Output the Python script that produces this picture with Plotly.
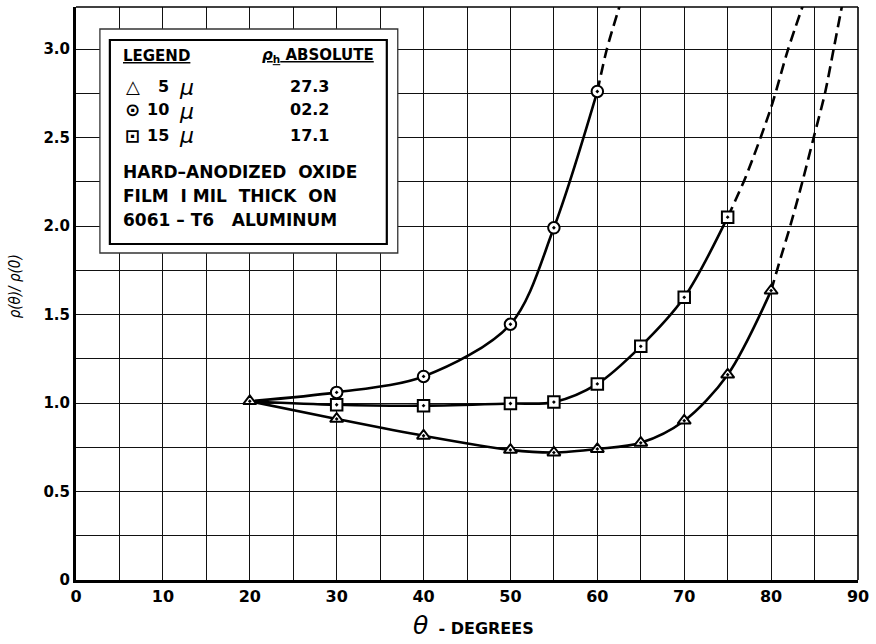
import plotly.graph_objects as go

# ---------------- data ----------------
origin_theta = 20
origin_rho = 1.01

theta_5 = [20, 30, 40, 50, 55, 60, 65, 70, 75, 80]
rho_5 = [1.01, 0.91, 0.815, 0.735, 0.72, 0.74, 0.775, 0.90, 1.16, 1.635]
ext_theta_5 = [80, 81.1, 82.2, 83.6, 84.9, 86.2, 87.2, 88.3]
ext_rho_5 = [1.635, 1.82, 2.0, 2.25, 2.5, 2.75, 3.0, 3.28]

theta_10 = [30, 40, 50, 55, 60]
rho_10 = [1.06, 1.15, 1.445, 1.99, 2.76]
ext_theta_10 = [60, 61.1, 62.8]
ext_rho_10 = [2.76, 3.0, 3.28]

theta_15 = [30, 40, 50, 55, 60, 65, 70, 75]
rho_15 = [0.99, 0.985, 0.997, 1.005, 1.108, 1.32, 1.597, 2.05]
ext_theta_15 = [75, 77.1, 80, 81.9, 83.9]
ext_rho_15 = [2.05, 2.28, 2.67, 2.99, 3.28]

x_ticks = [0, 10, 20, 30, 40, 50, 60, 70, 80, 90]
x_ticktext = ["0", "10", "20", "30", "40", "50", "60", "70", "80", "90"]
y_ticks = [0, 0.5, 1.0, 1.5, 2.0, 2.5, 3.0]
y_ticktext = ["0", "0.5", "1.0", "1.5", "2.0", "2.5", "3.0"]

legend_sizes = ["5", "10", "15"]
legend_glyphs = ["△", "⊙", "⊡"]
legend_abs = ["27.3", "02.2", "17.1"]
note_lines = ["HARD–ANODIZED  OXIDE", "FILM  I MIL  THICK  ON", "6061 – T6   ALUMINUM"]

# ---------------- layout geometry ----------------
W, H = 876, 644
L, R, T, B = 76, 861, 7, 580
FONT = "DejaVu Sans"


def px(x):
    return (x - L) / (R - L)


def py(y):
    return (B - y) / (B - T)


fig = go.Figure()

LW = 2.6
MK = dict(size=11.5, color="white", line=dict(color="black", width=2))

series = [
    (theta_5, rho_5, ext_theta_5, ext_rho_5, "triangle-up-dot", False),
    (theta_10, rho_10, ext_theta_10, ext_rho_10, "circle-dot", True),
    (theta_15, rho_15, ext_theta_15, ext_rho_15, "square-dot", True),
]
for th, rh, eth, erh, sym, prepend in series:
    lx = ([origin_theta] + th) if prepend else th
    ly = ([origin_rho] + rh) if prepend else rh
    fig.add_trace(go.Scatter(x=lx, y=ly, mode="lines",
                             line=dict(color="black", width=LW, shape="spline", smoothing=0.9),
                             showlegend=False, hoverinfo="skip"))
    fig.add_trace(go.Scatter(x=eth, y=erh, mode="lines",
                             line=dict(color="black", width=LW, dash="11px,6px", shape="spline", smoothing=0.8),
                             showlegend=False, hoverinfo="skip"))
for th, rh, eth, erh, sym, prepend in series:
    fig.add_trace(go.Scatter(x=th, y=rh, mode="markers",
                             marker=dict(symbol=sym, **MK), showlegend=False))

shapes = []
# top and right frame lines
shapes.append(dict(type="line", xref="paper", yref="paper", x0=0, x1=1, y0=1, y1=1,
                   line=dict(color="black", width=1.6)))
shapes.append(dict(type="line", xref="paper", yref="paper", x0=1, x1=1, y0=0, y1=1,
                   line=dict(color="black", width=1.6)))
# legend box: outer thin frame + inner heavy frame
shapes.append(dict(type="rect", xref="paper", yref="paper", layer="above",
                   x0=px(100), x1=px(399), y0=py(253), y1=py(29),
                   fillcolor="white", line=dict(color="#333", width=1.3)))
shapes.append(dict(type="rect", xref="paper", yref="paper", layer="above",
                   x0=px(110), x1=px(388), y0=py(244), y1=py(40),
                   fillcolor="white", line=dict(color="black", width=2.2)))

ann = []


def add_text(text, x, y, size=15, xanchor="left", family=FONT, **kw):
    ann.append(dict(text=text, xref="paper", yref="paper", x=px(x), y=py(y),
                    xanchor=xanchor, yanchor="middle", showarrow=False,
                    font=dict(family=family, size=size, color="black"), **kw))


add_text("<b><u>LEGEND</u></b>", 121, 56, 15)
add_text("<b><u><i>ρ</i><sub>h</sub> ABSOLUTE</u></b>", 261, 56, 15)
rows_y = [86, 110, 135]
for g, s, a, yy in zip(legend_glyphs, legend_sizes, legend_abs, rows_y):
    add_text("<b>" + g + "</b>", 133, yy, 18, xanchor="center")
    add_text("<b>" + s + "</b>", 171, yy, 16, xanchor="right")
    add_text("<i>μ</i>", 177, yy + 1, 22)
    add_text("<b>" + a + "</b>", 310, yy, 16, xanchor="center")
for line, yy in zip(note_lines, [172, 196, 220]):
    add_text("<b>" + line + "</b>", 121, yy, 17)

# axis titles
add_text("<span style='font-size:25px'><i>θ</i></span>  <b>- DEGREES</b>", 475, 626, 16, xanchor="center")
add_text("<i>ρ(θ)/ ρ(0)</i>", 15, 286, 15, xanchor="center",
         family="DejaVu Sans Condensed, Liberation Sans Narrow, DejaVu Sans", textangle=-90)

fig.update_layout(
    width=W, height=H,
    margin=dict(l=L, r=W - R, t=T, b=H - B),
    paper_bgcolor="white", plot_bgcolor="white",
    shapes=shapes, annotations=ann,
    showlegend=False,
    xaxis=dict(range=[0, 90], tickvals=x_ticks, ticktext=x_ticktext,
               showgrid=True, gridcolor="#111", gridwidth=1.4,
               minor=dict(dtick=5, showgrid=True, gridcolor="#111", gridwidth=1.4),
               zeroline=False, showline=True, linecolor="black", linewidth=3,
               ticks="", ticklen=0,
               tickfont=dict(family=FONT, size=16, color="black", weight="bold")),
    yaxis=dict(range=[0, (B - T) / 177.0], tickvals=y_ticks, ticktext=y_ticktext,
               showgrid=True, gridcolor="#111", gridwidth=1.4,
               minor=dict(dtick=0.25, showgrid=True, gridcolor="#111", gridwidth=1.4),
               zeroline=False, showline=True, linecolor="black", linewidth=3,
               ticks="", ticklen=0,
               tickfont=dict(family=FONT, size=15, color="black", weight="bold")),
)

fig.write_html("out.html")
